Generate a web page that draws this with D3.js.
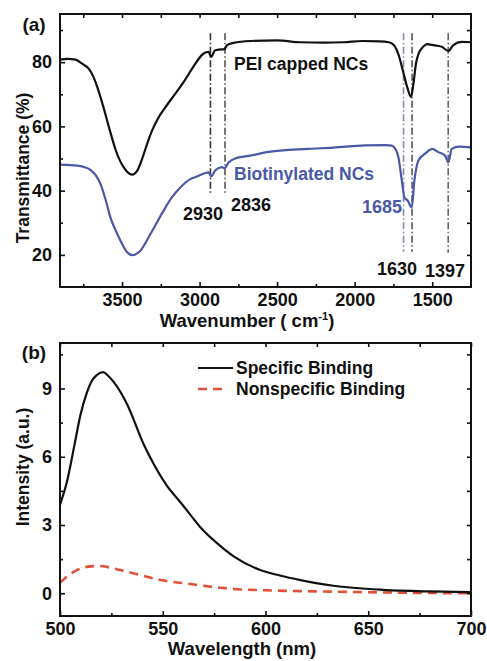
<!DOCTYPE html>
<html>
<head>
<meta charset="utf-8">
<script src="https://cdn.jsdelivr.net/npm/d3@7"></script>
<style>
  html, body { margin: 0; padding: 0; background: #fff; }
  svg { display: block; font-family: "Liberation Sans", Arial, Helvetica, sans-serif; font-weight: bold; }
</style>
</head>
<body>
<svg id="fig" width="487" height="661"></svg>
<script>
// ---- (a) FTIR spectra: [wavenumber (cm^-1), transmittance (%)] ----
const peiCapped = [
  [3900, 80.8], [3850, 81.0], [3800, 80.8], [3760, 79.6], [3715, 78.0], [3685, 75.5],
  [3660, 72.3], [3620, 66.0], [3580, 59.0], [3540, 52.5], [3490, 47.3], [3435, 45.0],
  [3400, 46.4], [3370, 50.0], [3340, 54.3], [3310, 58.3], [3270, 62.3], [3220, 66.0],
  [3167, 69.5], [3100, 74.0], [3040, 78.6], [2974, 82.7], [2942, 83.2], [2926, 81.7],
  [2899, 83.7], [2856, 84.0], [2840, 84.0], [2823, 85.3], [2781, 86.0], [2673, 86.6],
  [2500, 86.8], [2350, 86.2], [2200, 86.1], [2072, 86.2], [1950, 86.6], [1840, 86.5],
  [1780, 86.2], [1745, 85.2], [1715, 82.0], [1690, 77.5], [1660, 72.0], [1637, 69.2],
  [1622, 73.0], [1605, 79.5], [1585, 83.0], [1567, 84.3], [1530, 85.6], [1503, 85.4],
  [1465, 85.1], [1439, 84.8], [1396, 83.5], [1364, 85.3], [1310, 86.3], [1250, 86.2]
];
const biotinylated = [
  [3900, 48.1], [3850, 48.0], [3790, 47.8], [3740, 47.3], [3704, 46.5], [3670, 44.8],
  [3639, 42.1], [3605, 37.0], [3575, 31.7], [3540, 27.5], [3510, 24.4], [3470, 21.0],
  [3435, 19.9], [3382, 21.3], [3317, 26.5], [3232, 33.8], [3180, 37.8], [3124, 41.0],
  [3060, 43.6], [3016, 44.4], [2942, 45.7], [2926, 44.4], [2899, 46.3], [2856, 47.3],
  [2838, 47.0], [2813, 48.8], [2760, 50.2], [2673, 50.9], [2566, 52.0], [2300, 53.0],
  [2137, 53.4], [1932, 54.1], [1800, 54.2], [1761, 54.0], [1735, 52.8], [1718, 50.4],
  [1696, 43.1], [1679, 37.9], [1658, 36.9], [1632, 34.8], [1615, 43.1], [1589, 49.4],
  [1546, 51.5], [1499, 53.0], [1461, 52.0], [1417, 50.9], [1396, 48.8], [1374, 53.0],
  [1326, 53.7], [1250, 53.5]
];
const peakLines = [2930, 2836, 1685, 1630, 1397];
const peakLabels = ["2930", "2836", "1685", "1630", "1397"];
const irXTicks = [3500, 3000, 2500, 2000, 1500];
const irYTicks = [20, 40, 60, 80];

// ---- (b) PL spectra: [wavelength (nm), intensity (a.u.)] ----
const specificBinding = [
  [500, 3.9], [503.5, 4.95], [507, 6.5], [510, 7.86], [513, 8.8], [515.6, 9.35],
  [518, 9.6], [521, 9.72], [523.5, 9.55], [526, 9.3], [532.7, 8.3], [540.7, 6.55],
  [545.6, 5.68], [552, 4.73], [558.6, 4.0], [563, 3.5], [568.3, 2.9], [576.4, 2.2],
  [584.5, 1.62], [597.4, 1.02], [607, 0.78], [617, 0.58], [633, 0.33], [657, 0.15],
  [680, 0.08], [700, 0.05]
];
const nonspecificBinding = [
  [500, 0.46], [503, 0.7], [506.7, 0.94], [513, 1.16], [519.7, 1.2], [526, 1.09],
  [536, 0.87], [549, 0.58], [562, 0.42], [575, 0.27], [584.5, 0.19], [600, 0.13],
  [633, 0.07], [660, 0.03], [700, 0.0]
];
const plXTicks = [500, 550, 600, 650, 700];
const plYTicks = [0, 3, 6, 9];
const legendNames = ["Specific Binding", "Nonspecific Binding"];

const svg = d3.select("#fig");
const INK = "#111";
const BLUE = "#4a58a8";
const RED = "#e4513a";
const TICK_FONT = "18px";
const TEXT_FONT = "17.5px";

function frame(g, x, y, xMajor, xMinor, yMajor, yMinor, xFmt, yFmt) {
  const [x0, x1] = x.range(), [y0, y1] = y.range();
  // inward major / minor ticks on all four sides
  const styleAxis = sel => {
    sel.select(".domain").remove();
    sel.selectAll(".tick line").attr("stroke", INK).attr("stroke-width", 1.6);
    sel.selectAll("text").attr("fill", INK).style("font-size", TICK_FONT).style("font-weight", "bold");
  };
  g.append("g").attr("transform", `translate(0,${y0})`)
    .call(d3.axisBottom(x).tickValues(xMajor).tickSize(-5).tickPadding(6).tickFormat(xFmt)).call(styleAxis);
  g.append("g").attr("transform", `translate(0,${y0})`)
    .call(d3.axisBottom(x).tickValues(xMinor).tickSize(-3).tickFormat("")).call(styleAxis);
  g.append("g").attr("transform", `translate(0,${y1})`)
    .call(d3.axisTop(x).tickValues(xMajor.concat(xMinor)).tickSize(-4).tickFormat("")).call(styleAxis);
  g.append("g").attr("transform", `translate(${x0},0)`)
    .call(d3.axisLeft(y).tickValues(yMajor).tickSize(-5).tickPadding(8).tickFormat(yFmt)).call(styleAxis);
  g.append("g").attr("transform", `translate(${x0},0)`)
    .call(d3.axisLeft(y).tickValues(yMinor).tickSize(-3).tickFormat("")).call(styleAxis);
  g.append("g").attr("transform", `translate(${x1},0)`)
    .call(d3.axisRight(y).tickValues(yMajor.concat(yMinor)).tickSize(-4).tickFormat("")).call(styleAxis);
  g.append("rect")
    .attr("x", x0).attr("y", y1).attr("width", x1 - x0).attr("height", y0 - y1)
    .attr("fill", "none").attr("stroke", INK).attr("stroke-width", 2);
}

// ================= (a) =================
const ax = d3.scaleLinear().domain([3900, 1250]).range([60, 471]);
const ay = d3.scaleLinear().domain([10, 95]).range([287, 14]);
const ga = svg.append("g");

// peak marker lines (dash-dot), spanning from top of the band down to the label
const peakStyle = {
  2930: { c: "#333", bot: 39.3 },
  2836: { c: "#555", bot: 39.3 },
  1685: { c: "#8f86ad", bot: 21 },
  1630: { c: "#555", bot: 21 },
  1397: { c: "#666", bot: 20.7 }
};
peakLines.forEach(p => {
  const s = peakStyle[p];
  ga.append("line")
    .attr("x1", ax(p)).attr("x2", ax(p))
    .attr("y1", ay(89)).attr("y2", ay(s.bot))
    .attr("stroke", s.c).attr("stroke-width", 1.6)
    .attr("stroke-dasharray", "7,2.5,1.5,2.5");
});

const irLine = d3.line().x(d => ax(d[0])).y(d => ay(d[1])).curve(d3.curveMonotoneX);
ga.append("path").datum(peiCapped).attr("d", irLine)
  .attr("fill", "none").attr("stroke", INK).attr("stroke-width", 2.2);
ga.append("path").datum(biotinylated).attr("d", irLine)
  .attr("fill", "none").attr("stroke", BLUE).attr("stroke-width", 2.2);

frame(ga, ax, ay, irXTicks, [3750, 3250, 2750, 2250, 1750],
  irYTicks, [30, 50, 70, 90], d3.format("d"), d3.format("d"));

ga.append("text").attr("x", 234).attr("y", 70).attr("fill", INK)
  .style("font-size", TEXT_FONT).text("PEI capped NCs");
ga.append("text").attr("x", 234).attr("y", 180).attr("fill", BLUE)
  .style("font-size", TEXT_FONT).text("Biotinylated NCs");

// peak wavenumber labels
const labelPos = [
  { x: 203, y: 220, c: INK },
  { x: 251, y: 211, c: INK },
  { x: 382, y: 213, c: BLUE },
  { x: 397, y: 275, c: INK },
  { x: 445, y: 277, c: INK }
];
peakLabels.forEach((t, i) => {
  ga.append("text").attr("x", labelPos[i].x).attr("y", labelPos[i].y)
    .attr("text-anchor", "middle").attr("fill", labelPos[i].c)
    .style("font-size", TICK_FONT).text(t);
});

ga.append("text").attr("x", 34).attr("y", 31).attr("text-anchor", "middle")
  .attr("fill", INK).style("font-size", "19px").text("(a)");
ga.append("text").attr("transform", "translate(29,168) rotate(-90)")
  .attr("text-anchor", "middle").attr("fill", INK).style("font-size", TEXT_FONT)
  .text("Transmittance (%)");
const xt = ga.append("text").attr("x", 247).attr("y", 327).attr("text-anchor", "middle")
  .attr("fill", INK).style("font-size", "18.5px");
xt.append("tspan").text("Wavenumber ( cm");
xt.append("tspan").attr("dy", -7).style("font-size", "11px").text("-1");
xt.append("tspan").attr("dy", 7).text(")");

// ================= (b) =================
const bx = d3.scaleLinear().domain([500, 700]).range([60, 471]);
const by = d3.scaleLinear().domain([-1, 11]).range([616, 343]);
const gb = svg.append("g");

const plLine = d3.line().x(d => bx(d[0])).y(d => by(d[1])).curve(d3.curveMonotoneX);
gb.append("path").datum(nonspecificBinding).attr("d", plLine)
  .attr("fill", "none").attr("stroke", RED).attr("stroke-width", 2.6)
  .attr("stroke-dasharray", "9,6");
gb.append("path").datum(specificBinding).attr("d", plLine)
  .attr("fill", "none").attr("stroke", INK).attr("stroke-width", 2.2);

frame(gb, bx, by, plXTicks, [525, 575, 625, 675], plYTicks, [1.5, 4.5, 7.5, 10.5],
  d3.format("d"), d3.format("d"));

// legend
const legend = gb.append("g");
legendNames.forEach((name, i) => {
  const yy = 368 + i * 21;
  legend.append("line").attr("x1", 198).attr("x2", i === 0 ? 233 : 227)
    .attr("y1", yy).attr("y2", yy)
    .attr("stroke", i === 0 ? INK : RED).attr("stroke-width", i === 0 ? 2 : 2.6)
    .attr("stroke-dasharray", i === 0 ? null : "9,6");
  legend.append("text").attr("x", 236).attr("y", yy + 6).attr("fill", INK)
    .style("font-size", TEXT_FONT).text(name);
});

gb.append("text").attr("x", 34).attr("y", 359).attr("text-anchor", "middle")
  .attr("fill", INK).style("font-size", "19px").text("(b)");
gb.append("text").attr("transform", "translate(29,467) rotate(-90)")
  .attr("text-anchor", "middle").attr("fill", INK).style("font-size", TEXT_FONT)
  .text("Intensity (a.u.)");
gb.append("text").attr("x", 242).attr("y", 655).attr("text-anchor", "middle")
  .attr("fill", INK).style("font-size", "18.5px").text("Wavelength (nm)");
</script>
</body>
</html>
